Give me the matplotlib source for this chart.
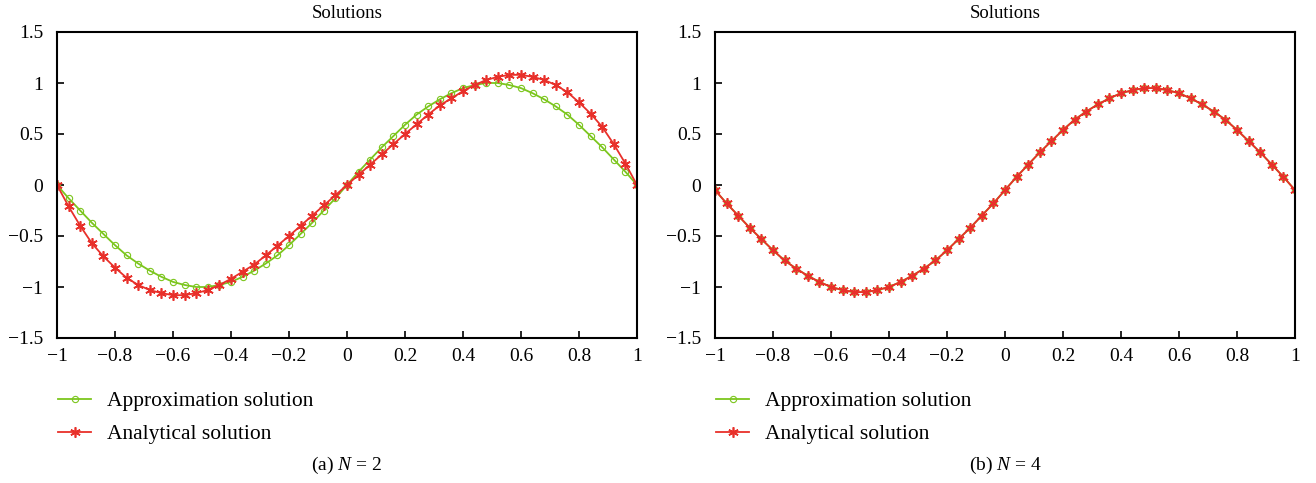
import numpy as np
import matplotlib
matplotlib.use("Agg")
import matplotlib.pyplot as plt
from matplotlib.ticker import FuncFormatter

plt.rcParams['font.family'] = ['Liberation Serif', 'DejaVu Serif']
plt.rcParams['mathtext.fontset'] = 'custom'
plt.rcParams['mathtext.it'] = 'Liberation Serif:italic'
plt.rcParams['mathtext.rm'] = 'Liberation Serif'

# x grid: 51 nodes on [-1, 1]
x_nodes = np.linspace(-1, 1, 51)

# panel (a) N = 2
approx_n2 = [0, -0.13, -0.25, -0.37, -0.48, -0.59, -0.69, -0.77, -0.84, -0.90,
             -0.95, -0.98, -1.00, -1.00, -0.98, -0.95, -0.90, -0.84, -0.77, -0.69,
             -0.59, -0.48, -0.37, -0.25, -0.13, 0,
             0.13, 0.25, 0.37, 0.48, 0.59, 0.69, 0.77, 0.84, 0.90, 0.95,
             0.98, 1.00, 1.00, 0.98, 0.95, 0.90, 0.84, 0.77, 0.69, 0.59,
             0.48, 0.37, 0.25, 0.13, 0]
exact_n2 = [0, -0.21, -0.40, -0.57, -0.70, -0.81, -0.91, -0.98, -1.03, -1.06,
            -1.08, -1.08, -1.06, -1.03, -0.98, -0.92, -0.85, -0.78, -0.69, -0.595,
            -0.50, -0.40, -0.30, -0.20, -0.10, 0,
            0.10, 0.20, 0.30, 0.40, 0.50, 0.595, 0.69, 0.78, 0.85, 0.92,
            0.98, 1.03, 1.06, 1.08, 1.08, 1.06, 1.03, 0.98, 0.91, 0.81,
            0.70, 0.57, 0.40, 0.21, 0]

# panel (b) N = 4
approx_n4 = [-0.05, -0.18, -0.30, -0.42, -0.53, -0.64, -0.74, -0.82, -0.89, -0.95,
             -1.00, -1.03, -1.05, -1.05, -1.03, -1.00, -0.95, -0.89, -0.82, -0.74,
             -0.64, -0.53, -0.42, -0.30, -0.18, -0.05,
             0.08, 0.20, 0.32, 0.43, 0.54, 0.64, 0.72, 0.79, 0.85, 0.90,
             0.93, 0.95, 0.95, 0.93, 0.90, 0.85, 0.79, 0.72, 0.64, 0.54,
             0.43, 0.32, 0.20, 0.08, -0.05]
exact_n4 = [-0.05, -0.18, -0.30, -0.42, -0.53, -0.64, -0.74, -0.82, -0.89, -0.95,
            -1.00, -1.03, -1.05, -1.05, -1.03, -1.00, -0.95, -0.89, -0.82, -0.74,
            -0.64, -0.53, -0.42, -0.30, -0.18, -0.05,
            0.08, 0.20, 0.32, 0.43, 0.54, 0.64, 0.72, 0.79, 0.85, 0.90,
            0.93, 0.95, 0.95, 0.93, 0.90, 0.85, 0.79, 0.72, 0.64, 0.54,
            0.43, 0.32, 0.20, 0.08, -0.05]

x_ticks = [-1, -0.8, -0.6, -0.4, -0.2, 0, 0.2, 0.4, 0.6, 0.8, 1]
y_ticks = [-1.5, -1, -0.5, 0, 0.5, 1, 1.5]
captions = ["(a) $N$ = 2", "(b) $N$ = 4"]

green = "#7cc61e"
red = "#e8302a"
star = (6, 2, 0)


def fmt(v, pos):
    return ("%g" % v).replace("-", "\u2212")


fig = plt.figure(figsize=(13.16, 4.83), dpi=100)
panels = [(approx_n2, exact_n2), (approx_n4, exact_n4)]
lefts = [57 / 1316, 715 / 1316]
centers = [347 / 1316, 1005 / 1316]

for i, (approx, exact) in enumerate(panels):
    ax = fig.add_axes([lefts[i], 145 / 483, 580 / 1316, 306 / 483])
    ax.plot(x_nodes, approx, color=green, lw=1.3, marker='o', ms=4.5,
            mfc='none', mec=green, mew=0.8, label="Approximation solution")
    ax.plot(x_nodes, exact, color=red, lw=1.3, marker=star, ms=7.5,
            mec=red, mew=1.2, label="Analytical solution")
    ax.set_xlim(-1, 1)
    ax.set_ylim(-1.5, 1.5)
    ax.set_xticks(x_ticks)
    ax.set_yticks(y_ticks)
    ax.xaxis.set_major_formatter(FuncFormatter(fmt))
    ax.yaxis.set_major_formatter(FuncFormatter(fmt))
    ax.tick_params(direction='in', length=5, width=1.2, labelsize=14,
                   top=False, right=False)
    ax.tick_params(axis='y', pad=10)
    ax.tick_params(axis='x', pad=7)
    for s in ax.spines.values():
        s.set_linewidth(1.5)
    ax.set_title("Solutions", fontsize=13.5, pad=10)
    ax.legend(loc='upper left', bbox_to_anchor=(-0.013, -0.145), frameon=False,
              numpoints=1, fontsize=15.5, handlelength=1.55, handletextpad=0.7,
              labelspacing=0.6, borderaxespad=0)
    fig.text(centers[i], 18 / 483, captions[i], ha='center', va='center',
             fontsize=14)

fig.savefig("out.png", dpi=100)
